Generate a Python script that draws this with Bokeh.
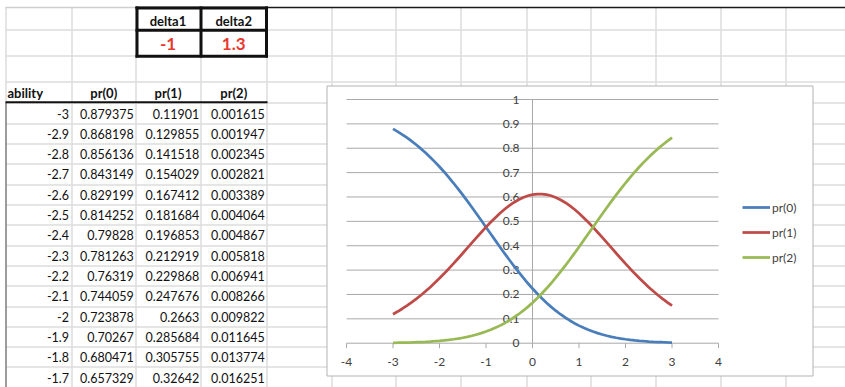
from bokeh.plotting import figure
from bokeh.models import Range1d, Legend, LegendItem
from bokeh.embed import file_html
from bokeh.resources import INLINE
from bokeh.core.properties import value

# ---------------- data ----------------
ability = [-3.0, -2.9, -2.8, -2.7, -2.6, -2.5, -2.4, -2.3, -2.2, -2.1,
           -2.0, -1.9, -1.8, -1.7, -1.6, -1.5, -1.4, -1.3, -1.2, -1.1,
           -1.0, -0.9, -0.8, -0.7, -0.6, -0.5, -0.4, -0.3, -0.2, -0.1,
           0.0, 0.1, 0.2, 0.3, 0.4, 0.5, 0.6, 0.7, 0.8, 0.9,
           1.0, 1.1, 1.2, 1.3, 1.4, 1.5, 1.6, 1.7, 1.8, 1.9,
           2.0, 2.1, 2.2, 2.3, 2.4, 2.5, 2.6, 2.7, 2.8, 2.9, 3.0]

pr0 = [0.879375, 0.868198, 0.856136, 0.843149, 0.829199, 0.814252, 0.79828, 0.781263, 0.76319, 0.744059,
       0.723878, 0.70267, 0.680471, 0.657329, 0.63331, 0.60849, 0.58297, 0.55684, 0.53024, 0.50329,
       0.47613, 0.44891, 0.42177, 0.39486, 0.36833, 0.34232, 0.31696, 0.29237, 0.26866, 0.24593,
       0.22426, 0.20371, 0.18432, 0.16614, 0.14916, 0.13341, 0.11887, 0.10551, 0.093293, 0.082185,
       0.072135, 0.063083, 0.054972, 0.047736, 0.041313, 0.035635, 0.030639, 0.026262, 0.022443, 0.019124,
       0.016251, 0.013774, 0.011645, 0.009822, 0.008266, 0.006941, 0.005818, 0.004867, 0.004064, 0.003389,
       0.002821]

pr1 = [0.11901, 0.129855, 0.141518, 0.154029, 0.167412, 0.181684, 0.196853, 0.212919, 0.229868, 0.247676,
       0.2663, 0.285684, 0.305755, 0.32642, 0.34757, 0.36907, 0.39078, 0.41252, 0.43412, 0.45540,
       0.47613, 0.49612, 0.51515, 0.53301, 0.54948, 0.56440, 0.57754, 0.58876, 0.59791, 0.60489,
       0.60960, 0.61198, 0.61198, 0.60960, 0.60489, 0.59791, 0.58876, 0.57754, 0.56440, 0.54948,
       0.53301, 0.51515, 0.49612, 0.47613, 0.45540, 0.43412, 0.41252, 0.39078, 0.36907, 0.34757,
       0.32642, 0.305755, 0.285684, 0.2663, 0.247676, 0.229868, 0.212919, 0.196853, 0.181684, 0.167412,
       0.154029]

pr2 = [0.001615, 0.001947, 0.002345, 0.002821, 0.003389, 0.004064, 0.004867, 0.005818, 0.006941, 0.008266,
       0.009822, 0.011645, 0.013774, 0.016251, 0.019124, 0.022443, 0.026262, 0.030639, 0.035635, 0.041313,
       0.047736, 0.054972, 0.063083, 0.072135, 0.082185, 0.093293, 0.10551, 0.11887, 0.13341, 0.14916,
       0.16614, 0.18432, 0.20371, 0.22426, 0.24593, 0.26866, 0.29237, 0.31696, 0.34232, 0.36833,
       0.39486, 0.42177, 0.44891, 0.47613, 0.50329, 0.53024, 0.55684, 0.58297, 0.60849, 0.63331,
       0.657329, 0.680471, 0.70267, 0.723878, 0.744059, 0.76319, 0.781263, 0.79828, 0.814252, 0.829199,
       0.843149]

series_names = ["pr(0)", "pr(1)", "pr(2)"]
delta_names = ["delta1", "delta2"]
delta_values = [-1, 1.3]
table_headers = ["ability", "pr(0)", "pr(1)", "pr(2)"]
x_ticks = [-4, -3, -2, -1, 0, 1, 2, 3, 4]
y_ticks = [0, 0.1, 0.2, 0.3, 0.4, 0.5, 0.6, 0.7, 0.8, 0.9, 1]
visible_rows = 14

# ---------------- styles / layout constants ----------------
FONT = "Lato"
COLORS = ["#4A7EBB", "#BE4B48", "#98B954"]
SHEET_GRID = "#dcdcdc"
CHART_GRID = "#a9a9a9"
LABEL_COLOR = "#404040"
TEXT_COLOR = "#111111"

W, H = 845, 387
PLOT_L, PLOT_R = 346.0, 718.0                   # chart plot area (px) for x = -4 .. 4
PLOT_B, PLOT_T = 342.7, 99.0                    # chart plot area (px) for y = 0 .. 1
XMIN, XMAX, YMIN, YMAX = -4, 4, 0, 1


def fmt(v):
    return f"{v:.6f}".rstrip("0").rstrip(".")


# chart ranges expressed over the whole canvas
xs = (PLOT_R - PLOT_L) / (XMAX - XMIN)
ys = (PLOT_B - PLOT_T) / (YMAX - YMIN)
cx_range = Range1d(XMIN - PLOT_L / xs, XMAX + (W - PLOT_R) / xs)
cy_range = Range1d(YMIN - (H - PLOT_B) / ys, YMAX + PLOT_T / ys)

p = figure(width=W, height=H, x_range=Range1d(0, W), y_range=Range1d(H, 0),
           output_backend="svg", toolbar_location=None, min_border=0,
           x_axis_type=None, y_axis_type=None)
p.extra_x_ranges = {"cx": cx_range}
p.extra_y_ranges = {"cy": cy_range}
p.grid.visible = False
p.outline_line_color = None
p.background_fill_color = "white"
p.border_fill_color = "white"

# ---------------- spreadsheet ----------------
col_edges = [5, 71.5, 135, 200, 266.5, 331, 395, 460, 526, 590, 655, 720, 785]
ROW_PITCH = 20.33
row_tops = [102.7 + ROW_PITCH * i for i in range(15)]
row_edges = [29.5, 55.5, 81.5] + row_tops

p.segment(x0=[int(c) + 0.5 for c in col_edges], x1=[int(c) + 0.5 for c in col_edges],
          y0=[7] * len(col_edges), y1=[H + 2] * len(col_edges),
          line_color=SHEET_GRID, line_width=1.5)
p.segment(x0=[5] * len(row_edges), x1=[W] * len(row_edges),
          y0=[int(r) + 0.5 for r in row_edges], y1=[int(r) + 0.5 for r in row_edges],
          line_color=SHEET_GRID, line_width=1.5)

# sheet view borders
p.segment(x0=[5, 135], x1=[135, W], y0=[7, 7], y1=[7, 7],
          line_color=["#cfcfcf", "#1a1a1a"], line_width=1.5)
p.segment(x0=[5.5], x1=[5.5], y0=[102], y1=[H], line_color="#555555", line_width=1)

# chart box (white area with grey border)
p.quad(left=[326.5], right=[812.5], top=[85.5], bottom=[375.5],
       fill_color="white", line_color="#b3b3b3", line_width=1)

# thick borders: delta box and header underline
p.segment(x0=[136.5, 266, 200.5, 135, 135, 135],
          x1=[136.5, 266, 200.5, 267.5, 267.5, 267.5],
          y0=[6, 6, 6, 7.5, 29.7, 55.7],
          y1=[57, 57, 57, 7.5, 29.7, 55.7],
          line_color=TEXT_COLOR, line_width=3)
p.segment(x0=[5], x1=[267], y0=[101.7], y1=[101.7], line_color=TEXT_COLOR, line_width=2)

col_centers = [(col_edges[j] + col_edges[j + 1]) / 2 for j in range(4)]
p.text(x=[col_centers[2], col_centers[3]], y=[20, 20], text=delta_names,
       text_align="center", text_baseline="middle", text_font=value(FONT),
       text_font_style="bold", text_font_size="13px", text_color=TEXT_COLOR)
p.text(x=[col_centers[2], col_centers[3]], y=[43.3, 43.3], text=[fmt(v) for v in delta_values],
       text_align="center", text_baseline="middle", text_font=value(FONT),
       text_font_style="bold", text_font_size="17px", text_color="#E8392F")

p.text(x=[7], y=[92.5], text=[table_headers[0]], text_align="left",
       text_baseline="middle", text_font=value(FONT), text_font_style="bold",
       text_font_size="13px", text_color=TEXT_COLOR)
p.text(x=col_centers[1:4], y=[92.5] * 3, text=table_headers[1:], text_align="center",
       text_baseline="middle", text_font=value(FONT), text_font_style="bold",
       text_font_size="13px", text_color=TEXT_COLOR)

right_edges = [68.5, 133.3, 198.8, 264.3]
bx, by, bt = [], [], []
for i in range(visible_rows):
    for j, v in enumerate([ability[i], pr0[i], pr1[i], pr2[i]]):
        bx.append(right_edges[j])
        by.append(row_tops[i] + 10.3)
        bt.append(fmt(v))
p.text(x=bx, y=by, text=bt, text_align="right", text_baseline="middle",
       text_font=value(FONT), text_font_size="12.5px", text_color=TEXT_COLOR)

# ---------------- chart (drawn through the cx / cy scales) ----------------
C = dict(x_range_name="cx", y_range_name="cy")
p.segment(x0=[XMIN] * len(y_ticks), x1=[XMAX] * len(y_ticks), y0=y_ticks, y1=y_ticks,
          line_color=CHART_GRID, line_width=1, **C)
p.segment(x0=[0], x1=[0], y0=[YMIN], y1=[YMAX], line_color=CHART_GRID, line_width=1, **C)
tick_len = 5 / ys
p.segment(x0=x_ticks, x1=x_ticks, y0=[0] * len(x_ticks), y1=[-tick_len] * len(x_ticks),
          line_color=CHART_GRID, line_width=1, **C)
p.text(x=x_ticks, y=[0] * len(x_ticks), text=[fmt(t) for t in x_ticks], y_offset=19,
       text_align="center", text_baseline="middle", text_font=value(FONT),
       text_font_size="12px", text_color=LABEL_COLOR, **C)
p.text(x=[0] * len(y_ticks), y=y_ticks, text=[fmt(t) for t in y_ticks], x_offset=-13,
       text_align="right", text_baseline="middle", text_font=value(FONT),
       text_font_size="12px", text_color=LABEL_COLOR, **C)

items = []
for name, yv, color in zip(series_names, [pr0, pr1, pr2], COLORS):
    r = p.line(x=ability, y=yv, line_color=color, line_width=2.75, **C)
    items.append(LegendItem(label=name, renderers=[r]))

legend = Legend(items=items, location=(742, 120), border_line_color=None,
                background_fill_alpha=0, label_text_font=FONT, label_text_font_size="12px",
                label_text_color=LABEL_COLOR, glyph_width=28, glyph_height=20,
                label_height=20, spacing=5, padding=10, label_standoff=2, margin=0)
p.add_layout(legend)

open("out.html", "w").write(file_html(p, INLINE))
